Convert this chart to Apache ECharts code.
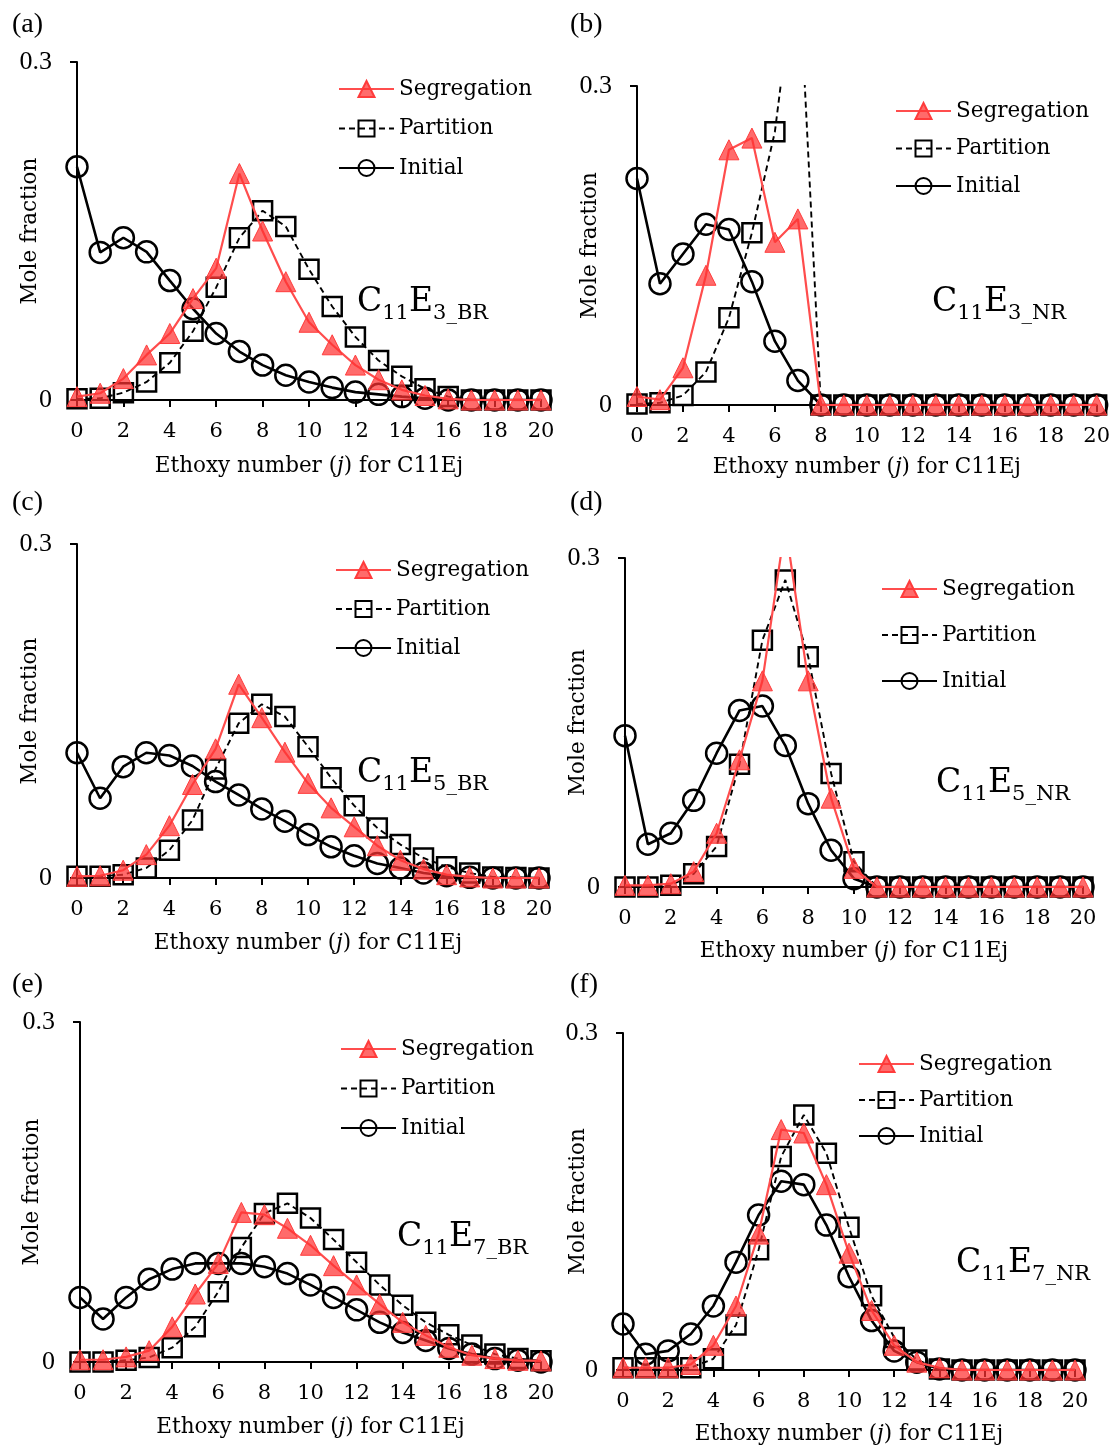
<!DOCTYPE html>
<html>
<head>
<meta charset="utf-8">
<script src="https://cdn.jsdelivr.net/npm/echarts@6/dist/echarts.min.js"></script>
<style>
html, body { margin: 0; padding: 0; background: #fff; }
#chart { width: 1113px; height: 1447px; }
</style>
</head>
<body>
<div id="chart"></div>
<script>
// ethoxy number j (x values) and tick labels
var ethoxy = [0,1,2,3,4,5,6,7,8,9,10,11,12,13,14,15,16,17,18,19,20];
var xTicks = [0,2,4,6,8,10,12,14,16,18,20];

// (a) C11E3_BR
var segA = [0.003,0.006,0.019,0.040,0.059,0.090,0.117,0.201,0.150,0.105,0.069,0.049,0.031,0.018,0.009,0.004,0.001,0,0,0,0];
var parA = [0.001,0.0015,0.0065,0.016,0.033,0.061,0.100,0.144,0.168,0.154,0.116,0.083,0.056,0.035,0.021,0.010,0.003,0,0,0,0];
var iniA = [0.207,0.131,0.144,0.1315,0.106,0.081,0.059,0.043,0.031,0.022,0.016,0.011,0.007,0.005,0.003,0.0015,0,0,0,0,0];
// (b) C11E3_NR
var segB = [0.008,0.005,0.035,0.122,0.240,0.251,0.153,0.175,0,0,0,0,0,0,0,0,0,0,0,0,0];
var parB = [0.001,0.002,0.009,0.031,0.082,0.162,0.257,0.43,0,0,0,0,0,0,0,0,0,0,0,0,0];
var iniB = [0.213,0.114,0.142,0.170,0.165,0.116,0.060,0.023,0,0,0,0,0,0,0,0,0,0,0,0,0];
// (c) C11E5_BR
var segC = [0.0015,0.002,0.007,0.021,0.047,0.084,0.116,0.174,0.144,0.113,0.085,0.063,0.046,0.029,0.016,0.008,0.003,0.001,0,0,0];
var parC = [0.0015,0.0015,0.003,0.009,0.025,0.052,0.098,0.139,0.156,0.145,0.118,0.090,0.065,0.045,0.030,0.018,0.010,0.0045,0.001,0.0005,0];
var iniC = [0.1125,0.0716,0.100,0.1125,0.110,0.1006,0.0866,0.0746,0.062,0.051,0.039,0.028,0.020,0.013,0.009,0.0045,0.002,0.0006,0,0,0];
// (d) C11E5_NR
var segD = [0.0015,0.0015,0.003,0.014,0.049,0.116,0.188,0.33,0.188,0.081,0.017,0,0,0,0,0,0,0,0,0,0];
var parD = [0,0,0.0015,0.012,0.037,0.112,0.225,0.280,0.210,0.1036,0.023,0,0,0,0,0,0,0,0,0,0];
var iniD = [0.138,0.039,0.049,0.079,0.122,0.161,0.165,0.129,0.076,0.0335,0.0076,0,0,0,0,0,0,0,0,0,0];
// (e) C11E7_BR
var segE = [0.002,0.002,0.0045,0.010,0.031,0.060,0.087,0.132,0.130,0.118,0.103,0.085,0.068,0.051,0.035,0.0235,0.013,0.006,0.003,0.0015,0.001];
var parE = [0,0,0.0015,0.004,0.0126,0.031,0.062,0.101,0.131,0.140,0.127,0.108,0.088,0.068,0.050,0.035,0.024,0.015,0.007,0.003,0.001];
var iniE = [0.057,0.038,0.057,0.073,0.082,0.087,0.087,0.087,0.084,0.078,0.068,0.057,0.046,0.035,0.026,0.019,0.012,0.007,0.003,0.0015,0];
// (f) C11E7_NR
var segF = [0.002,0.002,0.002,0.005,0.022,0.057,0.121,0.214,0.211,0.165,0.104,0.053,0.022,0.007,0.002,0,0,0,0,0,0];
var parF = [0.002,0.002,0.002,0.002,0.010,0.040,0.107,0.190,0.227,0.193,0.127,0.066,0.029,0.009,0.001,0,0,0,0,0,0];
var iniF = [0.041,0.014,0.017,0.032,0.057,0.096,0.138,0.168,0.165,0.129,0.083,0.044,0.017,0.007,0.001,0,0,0,0,0,0];

var seriesNames = ['Segregation', 'Partition', 'Initial'];

var serif = 'DejaVu Serif';
var times = 'Liberation Serif';

// layout of the six panels
var panels = [
    {tag:'(a)', tx:12,  ty:25,  grid:{left:77,  top:62,   width:464, height:338}, data:[segA,parA,iniA], leg:{left:338, top:78,   gap:17.5}, sub:'3_BR', lx:357, ly:305,  xGap:55, yGap:36},
    {tag:'(b)', tx:570, ty:25,  grid:{left:637, top:86,   width:460, height:319}, data:[segB,parB,iniB], leg:{left:895, top:100,  gap:15.5}, sub:'3_NR', lx:932, ly:305,  xGap:51, yGap:36},
    {tag:'(c)', tx:12,  ty:503, grid:{left:77,  top:544,  width:462, height:334}, data:[segC,parC,iniC], leg:{left:335, top:559,  gap:17},   sub:'5_BR', lx:357, ly:776,  xGap:54, yGap:36},
    {tag:'(d)', tx:570, ty:503, grid:{left:625, top:558,  width:458, height:329}, data:[segD,parD,iniD], leg:{left:881, top:578,  gap:24},   sub:'5_NR', lx:936, ly:786,  xGap:53, yGap:36},
    {tag:'(e)', tx:12,  ty:985, grid:{left:80,  top:1022, width:461, height:340}, data:[segE,parE,iniE], leg:{left:340, top:1038, gap:17.5}, sub:'7_BR', lx:397, ly:1240, xGap:54, yGap:37},
    {tag:'(f)', tx:570, ty:985, grid:{left:623, top:1033, width:452, height:337}, data:[segF,parF,iniF], leg:{left:858, top:1053, gap:14},   sub:'7_NR', lx:956, ly:1266, xGap:53, yGap:34}
];

function pairs(vals) {
    return ethoxy.map(function(x, i){ return [x, vals[i]]; });
}

var chart = echarts.init(document.getElementById('chart'));
var grids = [], xAxes = [], yAxes = [], series = [], legends = [], graphics = [];

panels.forEach(function(p, k){
    grids.push(p.grid);
    xAxes.push({
        type: 'value', gridIndex: k, min: 0, max: 20, interval: 2,
        name: 'Ethoxy number ({i|j}) for C11Ej', nameLocation: 'middle', nameGap: p.xGap,
        nameMoveOverlap: false,
        nameTextStyle: {fontFamily: serif, fontSize: 21.5, color: '#000',
            rich: {i: {fontFamily: serif, fontSize: 21.5, fontStyle: 'italic', color: '#000'}}},
        splitLine: {show: false},
        axisLine: {lineStyle: {color: '#000', width: 2}},
        axisTick: {length: 7, lineStyle: {color: '#000', width: 2}, customValues: xTicks},
        axisLabel: {fontFamily: serif, fontSize: 21, color: '#000', margin: 21, customValues: xTicks}
    });
    yAxes.push({
        type: 'value', gridIndex: k, min: 0, max: 0.3, interval: 0.3,
        name: 'Mole fraction', nameLocation: 'middle', nameGap: p.yGap,
        nameMoveOverlap: false,
        nameTextStyle: {fontFamily: serif, fontSize: 21.5, color: '#000'},
        splitLine: {show: false},
        axisLine: {show: true, lineStyle: {color: '#000', width: 2}},
        axisTick: {show: true, length: 7, lineStyle: {color: '#000', width: 2}},
        axisLabel: {fontFamily: times, fontSize: 26, color: '#000', margin: 25,
            formatter: function(v){ return v === 0 ? '0' : '0.3'; }}
    });
    series.push({
        name: seriesNames[0], type: 'line', xAxisIndex: k, yAxisIndex: k, z: 4,
        data: pairs(p.data[0]), symbol: 'triangle', symbolSize: 20,
        lineStyle: {color: '#ff4d4d', width: 2.2},
        itemStyle: {color: 'rgba(255,50,50,0.72)', borderColor: '#ff3b3b', borderWidth: 1}
    });
    series.push({
        name: seriesNames[1], type: 'line', xAxisIndex: k, yAxisIndex: k, z: 3,
        data: pairs(p.data[1]), symbol: 'rect', symbolSize: 19,
        lineStyle: {color: '#000', width: 1.9, type: [6, 4]},
        itemStyle: {color: 'rgba(255,255,255,0)', borderColor: '#000', borderWidth: 2.5}
    });
    series.push({
        name: seriesNames[2], type: 'line', xAxisIndex: k, yAxisIndex: k, z: 2,
        data: pairs(p.data[2]), symbol: 'circle', symbolSize: 21,
        lineStyle: {color: '#000', width: 2.6},
        itemStyle: {color: 'rgba(255,255,255,0)', borderColor: '#000', borderWidth: 2.5}
    });
    legends.push({
        data: seriesNames, orient: 'vertical', left: p.leg.left, top: p.leg.top,
        itemWidth: 55, itemHeight: 20, itemGap: p.leg.gap, padding: 0,
        selectedMode: false,
        textStyle: {fontFamily: serif, fontSize: 21.5, color: '#000', lineHeight: 20}
    });
    graphics.push({
        type: 'text', x: p.tx, y: p.ty,
        style: {text: p.tag, fontFamily: times, fontSize: 28, fill: '#000', verticalAlign: 'middle'}
    });
    // compound label with subscripts
    graphics.push({
        type: 'text', x: p.lx, y: p.ly,
        style: {
            text: '{m|C}{s|11}{m|E}{s|' + p.sub + '}',
            verticalAlign: 'middle', fill: '#000',
            rich: {
                m: {fontFamily: serif, fontSize: 33, lineHeight: 39, verticalAlign: 'top', fill: '#000'},
                s: {fontFamily: serif, fontSize: 21, lineHeight: 21, verticalAlign: 'bottom', fill: '#000'}
            }
        }
    });
});

var option = {
    animation: false,
    backgroundColor: '#fff',
    grid: grids,
    xAxis: xAxes,
    yAxis: yAxes,
    legend: legends,
    series: series,
    graphic: graphics
};
chart.setOption(option);
</script>
</body>
</html>
